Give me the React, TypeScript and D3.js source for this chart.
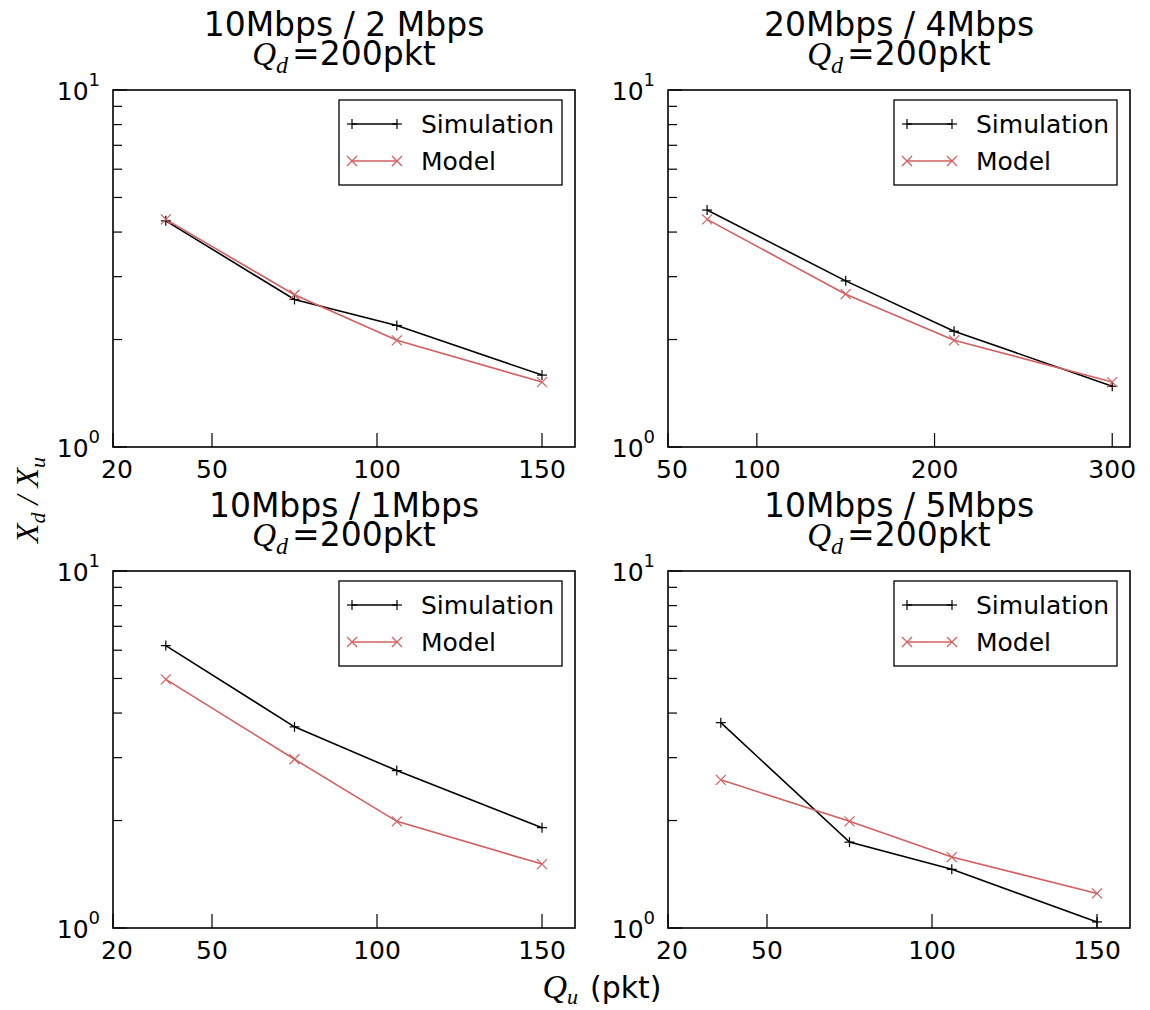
import React from "react";
import * as d3 from "d3";

const panelTitles = ["10Mbps / 2 Mbps", "20Mbps / 4Mbps", "10Mbps / 1Mbps", "10Mbps / 5Mbps"];
const subTitle = "=200pkt";
const xDomains: number[][] = [[20, 160], [50, 310], [20, 160], [20, 160]];
const xTickValues: number[][] = [[20, 50, 100, 150], [50, 100, 200, 300], [20, 50, 100, 150], [20, 50, 100, 150]];
const queueUp: number[][] = [[36, 75, 106, 150], [72, 150, 211, 300], [36, 75, 106, 150], [36, 75, 106, 150]];
const simulation: number[][] = [
  [4.30, 2.59, 2.19, 1.59],
  [4.61, 2.92, 2.11, 1.48],
  [6.18, 3.66, 2.76, 1.91],
  [3.76, 1.74, 1.46, 1.04],
];
const model: number[][] = [
  [4.34, 2.67, 1.99, 1.52],
  [4.34, 2.68, 1.99, 1.52],
  [4.97, 2.97, 1.99, 1.51],
  [2.60, 1.99, 1.58, 1.25],
];
const seriesNames = ["Simulation", "Model"];
const yMinorTicks = [2, 3, 4, 5, 6, 7, 8, 9];

const W = 1150;
const H = 1010;
const PW = 462;
const PH = 357;
const origins = [
  [113, 90],
  [668, 90],
  [113, 571],
  [668, 571],
];
const RED = "#d35f5f";
const SANS = "'DejaVu Sans', sans-serif";
const MATH = "'Liberation Serif', 'DejaVu Serif', serif";

function Plus({ x, y, s = 5 }: { x: number; y: number; s?: number }) {
  return (
    <g stroke="#000" strokeWidth={1.2}>
      <line x1={x - s} x2={x + s} y1={y} y2={y} />
      <line x1={x} x2={x} y1={y - s} y2={y + s} />
    </g>
  );
}
function Cross({ x, y, s = 5 }: { x: number; y: number; s?: number }) {
  return (
    <g stroke={RED} strokeWidth={1.2}>
      <line x1={x - s} x2={x + s} y1={y - s} y2={y + s} />
      <line x1={x - s} x2={x + s} y1={y + s} y2={y - s} />
    </g>
  );
}

function Panel({ i }: { i: number }) {
  const [ox, oy] = origins[i];
  const x = d3.scaleLinear().domain(xDomains[i]).range([0, PW]);
  const y = d3.scaleLog().domain([1, 10]).range([PH, 0]);
  const line = d3
    .line<number>()
    .x((_, k) => x(queueUp[i][k]))
    .y((v) => y(v));
  const cx = PW / 2;
  return (
    <g transform={`translate(${ox},${oy})`}>
      {/* titles */}
      <text x={cx} y={-54} textAnchor="middle" fontFamily={SANS} fontSize={33}>
        {panelTitles[i]}
      </text>
      <text x={cx} y={-25} textAnchor="middle" fontSize={33}>
        <tspan fontFamily={MATH} fontStyle="italic" fontSize={33}>Q</tspan>
        <tspan fontFamily={MATH} fontStyle="italic" fontSize={24} dy={8}>d</tspan>
        <tspan fontFamily={SANS} dy={-8} dx={4}>{subTitle}</tspan>
      </text>
      {/* lines */}
      <path d={line(simulation[i]) || ""} fill="none" stroke="#000" strokeWidth={1.6} />
      <path d={line(model[i]) || ""} fill="none" stroke={RED} strokeWidth={1.6} />
      {simulation[i].map((v, k) => (
        <Plus key={"s" + k} x={x(queueUp[i][k])} y={y(v)} />
      ))}
      {model[i].map((v, k) => (
        <Cross key={"m" + k} x={x(queueUp[i][k])} y={y(v)} />
      ))}
      {/* ticks */}
      {xTickValues[i].map((t) => (
        <g key={"xt" + t}>
          <line x1={x(t)} x2={x(t)} y1={PH} y2={PH - 14} stroke="#000" strokeWidth={1.2} />
          <text x={x(t) + (t === xDomains[i][0] ? 4 : 0)} y={PH + 31} textAnchor="middle" fontFamily={SANS} fontSize={25}>
            {t}
          </text>
        </g>
      ))}
      {yMinorTicks.map((t) => (
        <line key={"ym" + t} x1={0} x2={9} y1={y(t)} y2={y(t)} stroke="#000" strokeWidth={1.2} />
      ))}
      {[1, 10].map((t) => (
        <g key={"yM" + t}>
          <line x1={0} x2={14} y1={y(t)} y2={y(t)} stroke="#000" strokeWidth={1.2} />
          <text x={-13} y={y(t) + 10} textAnchor="end" fontFamily={SANS} fontSize={25}>
            <tspan>10</tspan>
            <tspan fontSize={18} dy={-14}>{t === 1 ? "0" : "1"}</tspan>
          </text>
        </g>
      ))}
      {/* frame */}
      <rect x={0} y={0} width={PW} height={PH} fill="none" stroke="#000" strokeWidth={1.6} />
      {/* legend */}
      <g transform={`translate(${PW - 236},10)`}>
        <rect x={0} y={0} width={223} height={85} fill="#fff" stroke="#000" strokeWidth={1.3} />
        <line x1={13} x2={58} y1={24} y2={24} stroke="#000" strokeWidth={1.6} />
        <Plus x={13} y={24} />
        <Plus x={58} y={24} />
        <text x={82} y={33} fontFamily={SANS} fontSize={25}>{seriesNames[0]}</text>
        <line x1={13} x2={58} y1={61} y2={61} stroke={RED} strokeWidth={1.6} />
        <Cross x={13} y={61} />
        <Cross x={58} y={61} />
        <text x={82} y={70} fontFamily={SANS} fontSize={25}>{seriesNames[1]}</text>
      </g>
    </g>
  );
}

export default function App() {
  return (
    <svg width={W} height={H} viewBox={`0 0 ${W} ${H}`} style={{ display: "block", position: "absolute", left: 0, top: 0, background: "#fff" }}>
      <rect width={W} height={H} fill="#fff" />
      {[0, 1, 2, 3].map((i) => (
        <Panel key={i} i={i} />
      ))}
      <text transform="translate(38,500) rotate(-90)" textAnchor="middle" fontFamily={MATH} fontStyle="italic" fontSize={32}>
        <tspan>X</tspan>
        <tspan fontSize={22} dy={7}>d</tspan>
        <tspan dy={-7}> / X</tspan>
        <tspan fontSize={22} dy={7}>u</tspan>
      </text>
      <text x={602} y={998} textAnchor="middle" fontSize={30}>
        <tspan fontFamily={MATH} fontStyle="italic" fontSize={34}>Q</tspan>
        <tspan fontFamily={MATH} fontStyle="italic" fontSize={22} dy={6}>u</tspan>
        <tspan fontFamily={SANS} dy={-6} dx={12}>(pkt)</tspan>
      </text>
    </svg>
  );
}
